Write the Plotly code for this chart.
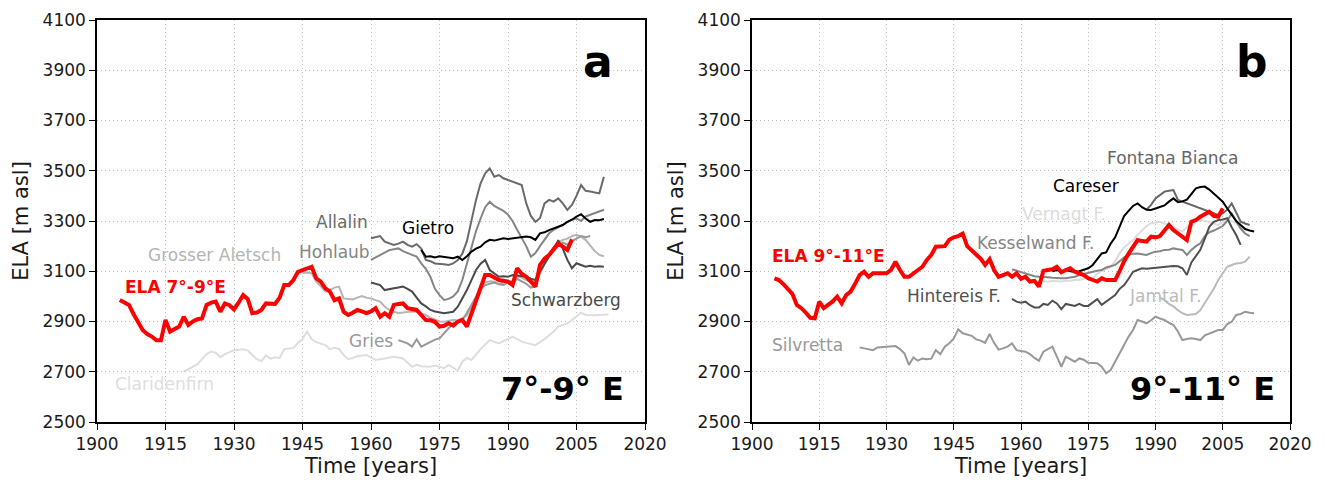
import plotly.graph_objects as go

# ---------------- Panel a (7°-9° E) ----------------
ela79_years = list(range(1905, 2005))
ela79_vals = [2986, 2975, 2966, 2930, 2900, 2866, 2850, 2840, 2825, 2825,
              2906, 2860, 2870, 2880, 2919, 2886, 2900, 2909, 2912, 2966,
              2975, 2979, 2939, 2972, 2965, 2948, 2975, 3005, 2990, 2933,
              2936, 2946, 2972, 2970, 2970, 2995, 3045, 3045, 3065, 3098,
              3105, 3112, 3118, 3072, 3059, 3032, 3019, 2985, 2992, 2939,
              2926, 2935, 2946, 2940, 2933, 2940, 2953, 2919, 2933, 2919,
              2966, 2970, 2972, 2953, 2950, 2946, 2926, 2906, 2905, 2899,
              2880, 2883, 2893, 2884, 2899, 2906, 2880, 2930, 2986, 3040,
              3085, 3085, 3075, 3065, 3062, 3059, 3045, 3112, 3090, 3078,
              3059, 3039, 3125, 3150, 3165, 3190, 3211, 3198, 3185, 3227]

clar_years = [1919, 1920, 1922, 1924, 1925, 1926, 1927, 1928, 1930, 1932, 1933, 1934, 1935, 1936,
              1937, 1938, 1939, 1940, 1941, 1943, 1944, 1945, 1946, 1947, 1948, 1950, 1951, 1952,
              1953, 1954, 1955, 1956, 1957, 1959, 1961, 1963, 1965, 1967, 1969, 1970, 1971, 1973,
              1974, 1976, 1977, 1979, 1980, 1981, 1982, 1984, 1986, 1988, 1990, 1991, 1993, 1996,
              1998, 2000, 2001, 2003, 2005, 2006, 2007, 2009, 2012]
clar_vals = [2700, 2710, 2730, 2770, 2780, 2775, 2757, 2770, 2786, 2790, 2785, 2767, 2750, 2742,
             2765, 2752, 2758, 2755, 2790, 2795, 2815, 2830, 2860, 2830, 2818, 2806, 2790, 2795,
             2790, 2767, 2750, 2755, 2762, 2767, 2747, 2753, 2760, 2753, 2720, 2728, 2722, 2720,
             2725, 2714, 2727, 2705, 2740, 2755, 2747, 2790, 2826, 2813, 2830, 2840, 2820, 2806,
             2830, 2860, 2880, 2893, 2920, 2935, 2926, 2925, 2928]

aletsch_years = list(range(1945, 2012))
aletsch_vals = [3092, 3095, 3092, 3059, 3040, 3019, 3025, 3035, 3039, 2992,
                2990, 2988, 2995, 3001, 2995, 2992, 2985, 2979, 2960, 2946,
                2940, 2933, 2936, 2939, 2940, 2939, 2932, 2926, 2915, 2906,
                2900, 2899, 2903, 2906, 2905, 2912, 2925, 2960, 2995, 3040,
                3055, 3060, 3058, 3050, 3055, 3060, 3062, 3080, 3075, 3065,
                3058, 3060, 3095, 3130, 3160, 3195, 3215, 3225, 3230, 3240,
                3245, 3238, 3225, 3200, 3180, 3165, 3160]

hohlaub_years = list(range(1960, 2012))
hohlaub_vals = [3145, 3155, 3164, 3175, 3184, 3188, 3191, 3180, 3171, 3165,
                3158, 3131, 3110, 3078, 3030, 3005, 2986, 2990, 3000, 3020,
                3065, 3130, 3200, 3260, 3310, 3355, 3377, 3360, 3350, 3340,
                3325, 3300, 3265, 3235, 3200, 3158, 3172, 3200, 3225, 3251,
                3265, 3275, 3285, 3295, 3305, 3310, 3300, 3318, 3325, 3330,
                3337, 3345]

allalin_years = list(range(1960, 2012))
allalin_vals = [3231, 3235, 3240, 3218, 3210, 3205, 3210, 3218, 3205, 3198,
                3208, 3190, 3145, 3140, 3131, 3130, 3128, 3125, 3131, 3145,
                3170, 3220, 3300, 3384, 3450, 3490, 3509, 3476, 3483, 3470,
                3463, 3456, 3450, 3443, 3370, 3320, 3297, 3311, 3370, 3384,
                3377, 3390, 3370, 3344, 3364, 3400, 3443, 3420, 3417, 3412,
                3410, 3476]

gietro_years = list(range(1971, 2012))
gietro_vals = [3185, 3158, 3160, 3155, 3160, 3158, 3155, 3152, 3158, 3145,
               3160, 3178, 3190, 3198, 3215, 3225, 3222, 3225, 3231, 3228,
               3231, 3233, 3235, 3238, 3235, 3225, 3251, 3255, 3264, 3270,
               3277, 3284, 3297, 3305, 3317, 3327, 3310, 3297, 3304, 3303,
               3308]

schwarz_years = list(range(1960, 2012))
schwarz_vals = [3055, 3050, 3045, 3025, 3030, 3032, 3035, 3039, 3030, 3019,
                2995, 2972, 2960, 2946, 2940, 2935, 2933, 2936, 2939, 2959,
                2990, 3025, 3065, 3105, 3130, 3145, 3105, 3090, 3078, 3080,
                3078, 3085, 3082, 3080, 3078, 3070, 3065, 3100, 3131, 3160,
                3185, 3224, 3190, 3145, 3112, 3132, 3125, 3118, 3122, 3118,
                3120, 3118]

gries_years = list(range(1966, 2009))
gries_vals = [2826, 2820, 2813, 2800, 2829, 2800, 2810, 2820, 2828, 2833,
              2855, 2873, 2893, 2900, 2906, 2935, 2965, 3000, 3030, 3045,
              3050, 3055, 3048, 3045, 3055, 3050, 3070, 3060, 3050, 3035,
              3040, 3090, 3130, 3160, 3180, 3200, 3215, 3205, 3220, 3230,
              3240, 3235, 3240]

# ---------------- Panel b (9°-11° E) ----------------
ela911_years = list(range(1905, 2006))
ela911_vals = [3072, 3065, 3049, 3030, 3010, 2966, 2953, 2935, 2915, 2913,
               2979, 2953, 2965, 2980, 2999, 2972, 3005, 3019, 3050, 3085,
               3098, 3078, 3092, 3092, 3090, 3092, 3105, 3138, 3105, 3078,
               3078, 3090, 3105, 3118, 3145, 3165, 3198, 3198, 3200, 3225,
               3235, 3240, 3250, 3200, 3185, 3165, 3150, 3125, 3148, 3105,
               3078, 3085, 3092, 3078, 3092, 3070, 3078, 3059, 3062, 3039,
               3102, 3105, 3108, 3118, 3096, 3105, 3112, 3098, 3090, 3085,
               3072, 3065, 3059, 3072, 3065, 3065, 3065, 3100, 3140, 3170,
               3200, 3224, 3220, 3218, 3238, 3235, 3240, 3265, 3284, 3264,
               3250, 3240, 3224, 3297, 3304, 3317, 3325, 3337, 3320, 3317,
               3350]

silv_years = list(range(1924, 2013))
silv_vals = [2797, 2793, 2790, 2786, 2797, 2798, 2800, 2800, 2802, 2790,
             2773, 2727, 2757, 2744, 2753, 2750, 2752, 2786, 2770, 2800,
             2813, 2833, 2869, 2853, 2848, 2843, 2829, 2824, 2815, 2850,
             2815, 2788, 2793, 2800, 2813, 2786, 2783, 2780, 2770, 2755,
             2744, 2780, 2790, 2800, 2760, 2720, 2760, 2750, 2740, 2753,
             2748, 2736, 2735, 2734, 2720, 2694, 2707, 2740, 2770, 2806,
             2840, 2866, 2906, 2900, 2893, 2905, 2919, 2912, 2906, 2895,
             2886, 2860, 2826, 2830, 2833, 2830, 2826, 2845, 2853, 2860,
             2866, 2866, 2890, 2899, 2926, 2930, 2939, 2935, 2933]

hint_years = list(range(1958, 2010))
hint_vals = [2990, 2979, 2975, 2979, 2965, 2956, 2956, 2970, 2966, 2983,
             2972, 2949, 2970, 2966, 2962, 2970, 2962, 2962, 2975, 2989,
             2966, 2979, 2990, 3005, 3030, 3045, 3070, 3098, 3105, 3112,
             3110, 3112, 3115, 3118, 3118, 3120, 3121, 3120, 3112, 3085,
             3135, 3160, 3185, 3230, 3277, 3297, 3304, 3306, 3311, 3275,
             3244, 3205]

kessel_years = list(range(1958, 2012))
kessel_vals = [3108, 3102, 3099, 3092, 3085, 3080, 3078, 3078, 3076, 3074,
               3072, 3072, 3072, 3075, 3078, 3085, 3090, 3092, 3098, 3102,
               3105, 3115, 3120, 3125, 3140, 3155, 3165, 3170, 3171, 3168,
               3165, 3172, 3178, 3180, 3185, 3186, 3191, 3188, 3185, 3165,
               3185, 3200, 3211, 3240, 3255, 3262, 3270, 3280, 3300, 3330,
               3300, 3270, 3250, 3240]

vern_years = list(range(1965, 2011))
vern_vals = [3060, 3058, 3062, 3060, 3059, 3062, 3062, 3065, 3065, 3070,
             3080, 3072, 3090, 3100, 3110, 3118, 3140, 3171, 3195, 3210,
             3224, 3245, 3264, 3280, 3291, 3295, 3297, 3290, 3285, 3277,
             3265, 3258, 3275, 3291, 3300, 3304, 3300, 3297, 3290, 3284,
             3295, 3304, 3300, 3291, 3275, 3251]

jam_years = list(range(1991, 2012))
jam_vals = [2995, 2985, 2970, 2960, 2945, 2933, 2926, 2928, 2930, 2945,
            2973, 3000, 3030, 3065, 3090, 3118, 3125, 3131, 3133, 3138, 3158]

care_years = list(range(1967, 2013))
care_vals = [3100, 3105, 3098, 3105, 3100, 3098, 3100, 3105, 3112, 3125,
             3150, 3171, 3175, 3210, 3235, 3280, 3320, 3340, 3360, 3370,
             3355, 3345, 3344, 3350, 3357, 3362, 3377, 3390, 3375, 3378,
             3385, 3410, 3430, 3435, 3437, 3425, 3410, 3395, 3377, 3350,
             3325, 3300, 3284, 3268, 3262, 3258]

font_years = [1988, 1989, 1990, 1991, 1992, 1993, 1994, 1995, 1996, 2004, 2005, 2006, 2007,
              2008, 2009, 2010, 2011]
font_vals = [3345, 3364, 3390, 3405, 3417, 3420, 3423, 3384, 3377, 3324, 3330, 3345, 3370,
             3335, 3297, 3290, 3284]

x_ticks = [1900, 1915, 1930, 1945, 1960, 1975, 1990, 2005, 2020]
y_ticks = [2500, 2700, 2900, 3100, 3300, 3500, 3700, 3900, 4100]

FONT = "DejaVu Sans"

panel_a = [
    ("Claridenfirn", clar_years, clar_vals, "#dedede", 2),
    ("Grosser Aletsch", aletsch_years, aletsch_vals, "#b5b5b5", 2),
    ("Gries", gries_years, gries_vals, "#999999", 2),
    ("Hohlaub", hohlaub_years, hohlaub_vals, "#858585", 2),
    ("Allalin", allalin_years, allalin_vals, "#6a6a6a", 2),
    ("Schwarzberg", schwarz_years, schwarz_vals, "#4a4a4a", 2),
    ("Gietro", gietro_years, gietro_vals, "#000000", 2),
    ("ELA 7°-9°E", ela79_years, ela79_vals, "#ff0000", 4),
]
panel_b = [
    ("Vernagt F.", vern_years, vern_vals, "#dcdcdc", 2),
    ("Jamtal F.", jam_years, jam_vals, "#bbbbbb", 2),
    ("Silvretta", silv_years, silv_vals, "#999999", 2),
    ("Kesselwand F.", kessel_years, kessel_vals, "#858585", 2),
    ("Fontana Bianca", font_years, font_vals, "#666666", 2),
    ("Hintereis F.", hint_years, hint_vals, "#505050", 2),
    ("Careser", care_years, care_vals, "#000000", 2),
    ("ELA 9°-11°E", ela911_years, ela911_vals, "#ff0000", 4),
]

fig = go.Figure()
for name, xs, ys, col, w in panel_a:
    fig.add_trace(go.Scatter(x=xs, y=ys, mode="lines", name=name,
                             line=dict(color=col, width=w), xaxis="x", yaxis="y"))
for name, xs, ys, col, w in panel_b:
    fig.add_trace(go.Scatter(x=xs, y=ys, mode="lines", name=name,
                             line=dict(color=col, width=w), xaxis="x2", yaxis="y2"))

W, H = 1325, 482
OFF = 8  # page body margin of the html wrapper
axis_common = dict(showline=True, linecolor="black", linewidth=1.5, mirror=True,
                   ticks="outside", ticklen=6, tickwidth=1.2, tickcolor="black",
                   showgrid=True, gridcolor="#bdbdbd", griddash="1px,3px", gridwidth=1,
                   zeroline=False, automargin=False,
                   tickfont=dict(family=FONT, size=17, color="#1a1a1a"))

xa = dict(axis_common, range=[1900, 2020], tickvals=x_ticks,
          title=dict(text="Time [years]", font=dict(family=FONT, size=21, color="#1a1a1a"), standoff=4))
ya = dict(axis_common, range=[2500, 4100], tickvals=y_ticks,
          title=dict(text="ELA [m asl]", font=dict(family=FONT, size=21, color="#1a1a1a"), standoff=8))

fig.update_layout(
    width=W, height=H,
    margin=dict(l=0, r=0, t=20 - OFF, b=H - (422 - OFF), autoexpand=False),
    paper_bgcolor="white", plot_bgcolor="white",
    showlegend=False,
    xaxis=dict(xa, domain=[(97 - OFF) / W, (645 - OFF) / W], anchor="y"),
    yaxis=dict(ya, domain=[0, 1], anchor="x"),
    xaxis2=dict(xa, domain=[(752 - OFF) / W, (1290 - OFF) / W], anchor="y2"),
    yaxis2=dict(ya, domain=[0, 1], anchor="x2"),
)

labels_a = [
    ("Allalin", 1947.5, 3296, "#6a6a6a", False),
    ("Gietro", 1966.4, 3272, "#000000", False),
    ("Grosser Aletsch", 1910.7, 3165, "#b5b5b5", False),
    ("Hohlaub", 1943.9, 3177, "#858585", False),
    ("ELA 7°-9°E", 1905.8, 3037, "#ff0000", True),
    ("Schwarzberg", 1990.3, 2986, "#4a4a4a", False),
    ("Gries", 1954.7, 2822, "#999999", False),
    ("Claridenfirn", 1903.4, 2651, "#dedede", False),
]
labels_b = [
    ("ELA 9°-11°E", 1904.0, 3161, "#ff0000", True),
    ("Kesselwand F.", 1949.8, 3212, "#858585", False),
    ("Vernagt F.", 1959.8, 3328, "#dcdcdc", False),
    ("Careser", 1966.6, 3439, "#000000", False),
    ("Fontana Bianca", 1978.8, 3551, "#666666", False),
    ("Hintereis F.", 1934.2, 3002, "#505050", False),
    ("Jamtal F.", 1983.7, 3002, "#bbbbbb", False),
    ("Silvretta", 1904.0, 2807, "#999999", False),
]
for labs, xr, yr in ((labels_a, "x", "y"), (labels_b, "x2", "y2")):
    for txt, lx, ly, col, bold in labs:
        fig.add_annotation(x=lx, y=ly, xref=xr, yref=yr, text=f"<b>{txt}</b>" if bold else txt,
                           showarrow=False, xanchor="left", yanchor="middle",
                           font=dict(family=FONT, size=17, color=col))

for txt, lx, xr, yr in (("a", 2009.7, "x", "y"), ("b", 2011.5, "x2", "y2")):
    fig.add_annotation(x=lx, y=3935, xref=xr, yref=yr, text=f"<b>{txt}</b>", showarrow=False,
                       xanchor="center", yanchor="middle",
                       font=dict(family=FONT, size=44, color="black"))
for txt, lx, xr, yr in (("7°-9° E", 2015.8, "x", "y"), ("9°-11° E", 2017.2, "x2", "y2")):
    fig.add_annotation(x=lx, y=2630, xref=xr, yref=yr, text=f"<b>{txt}</b>", showarrow=False,
                       xanchor="right", yanchor="middle",
                       font=dict(family=FONT, size=32, color="black"))

fig.write_html("out.html")
